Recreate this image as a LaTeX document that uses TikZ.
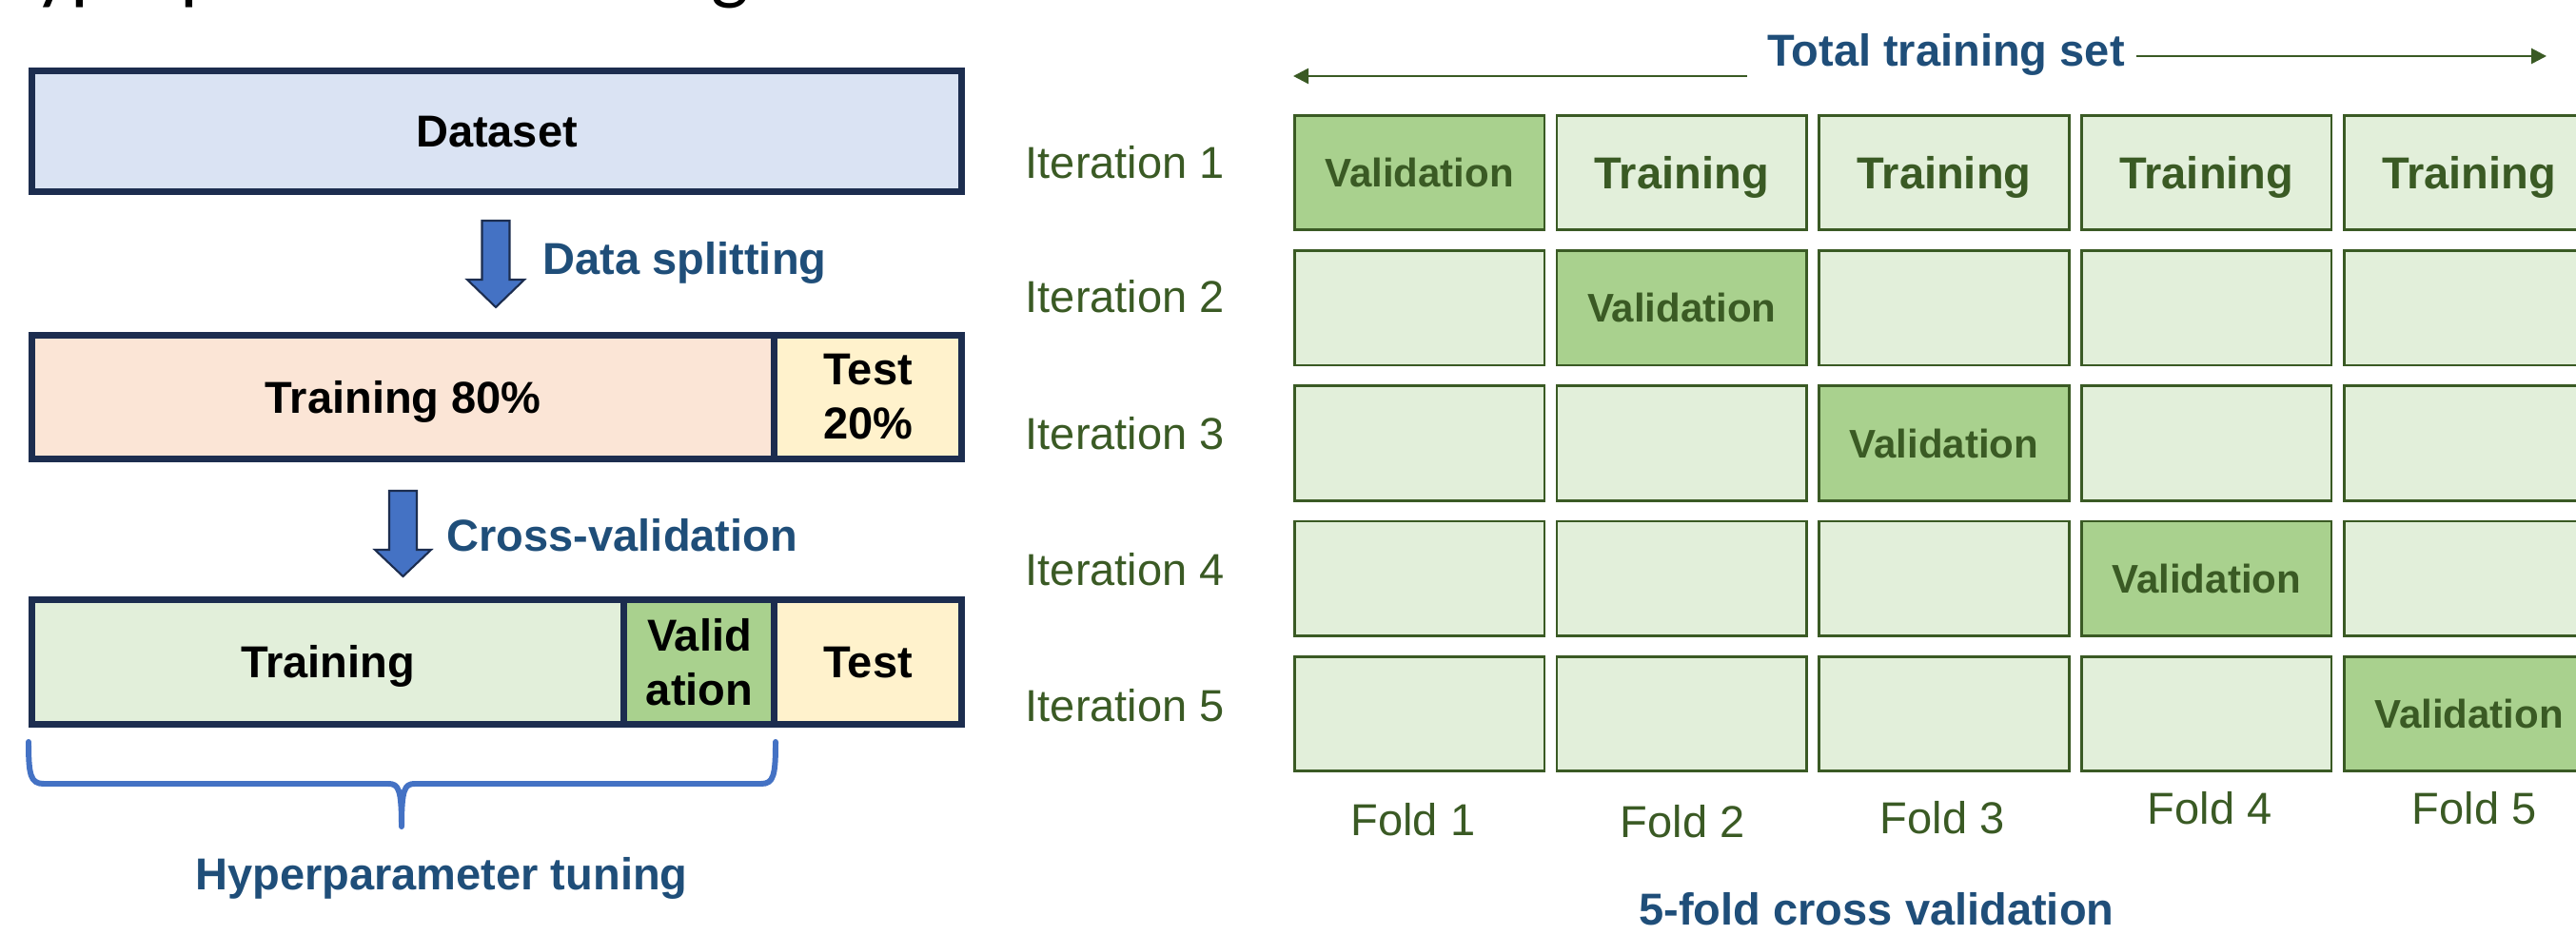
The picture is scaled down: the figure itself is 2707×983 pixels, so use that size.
\documentclass[tikz,border=0pt]{standalone}
\usepackage{fontspec}
\setmainfont{Liberation Sans}
\newfontfamily\titlefont{Carlito}
\usetikzlibrary{arrows.meta}
\definecolor{navy}{HTML}{1C2D4F}
\definecolor{dsfill}{HTML}{DAE3F3}
\definecolor{peach}{HTML}{FBE5D6}
\definecolor{lyellow}{HTML}{FFF2CC}
\definecolor{lgreen}{HTML}{E2EFDA}
\definecolor{mgreen}{HTML}{A9D18E}
\definecolor{dgreen}{HTML}{3A5A24}
\definecolor{btext}{HTML}{1F4E79}
\definecolor{bluefill}{HTML}{4472C4}
\newcommand\fntB{\fontsize{13.37}{16.2}\selectfont\bfseries}
\newcommand\fntR{\fontsize{13.37}{16.2}\selectfont}
\newcommand\fntV{\fontsize{11.95}{14}\selectfont\bfseries}
\tikzset{
  navybox/.style={draw=navy, line width=2pt, inner sep=0pt, font=\fntB, text=black, align=center},
  oneline/.style={text height=0.337cm, text depth=0pt},
  bluelabel/.style={inner sep=0pt, font=\fntB, text=btext, oneline},
  bluearrow/.style={fill=bluefill, draw=navy, line width=0.6pt, line join=miter},
  bracestyle/.style={draw=bluefill, line width=1.7pt, line cap=round, line join=round},
  cellbase/.style={draw=dgreen, line width=0.75pt, minimum width=2.625cm, minimum height=1.205cm, inner sep=0pt, text=dgreen},
  traincell/.style={cellbase, fill=lgreen, font=\fntB, oneline},
  valcell/.style={cellbase, fill=mgreen, font=\fntV, text height=0.30cm, text depth=0pt},
  greenlabel/.style={inner sep=0pt, font=\fntR, text=dgreen, oneline},
  garrow/.style={draw=dgreen, line width=0.75pt, -{Triangle[length=0.16cm,width=0.16cm]}}
}
\begin{document}
\begin{tikzpicture}[x=0.01cm, y=-0.01cm]
\useasboundingbox (0,0) rectangle (2707,983);
\clip (0,0) rectangle (2707,983);

% cut-off title
\node[anchor=base west, inner sep=0pt, font=\titlefont\fontsize{23.9}{28}\selectfont] (title) at (-17,-5) {Hyperparameter tuning};

% left column boxes
\node[navybox, fill=dsfill, minimum width=9.77cm, minimum height=1.27cm, oneline] (ds) at (522,138) {Dataset};

\node[navybox, fill=peach, minimum width=7.805cm, minimum height=1.30cm, oneline] (tr80) at (423.75,417.5) {Training 80\%};
\node[navybox, fill=lyellow, minimum width=1.965cm, minimum height=1.30cm] (te20) at (912.25,417.5) {Test\\20\%};

\node[navybox, fill=lgreen, minimum width=6.225cm, minimum height=1.31cm, oneline] (trcv) at (344.75,696) {Training};
\node[navybox, fill=mgreen, minimum width=1.58cm, minimum height=1.31cm] (vacv) at (735,696) {Valid\\ation};
\node[navybox, fill=lyellow, minimum width=1.965cm, minimum height=1.31cm, oneline] (tecv) at (912.25,696) {Test};

% block arrows
\draw[bluearrow] (506.5,232) -- (535.5,232) -- (535.5,294) -- (551,294) -- (521,323) -- (491,294) -- (506.5,294) -- cycle;
\node[bluelabel, anchor=west] (dsplit) at (570,272) {Data splitting};

\draw[bluearrow] (409,516) -- (438,516) -- (438,578) -- (453,578) -- (423.5,606) -- (394,578) -- (409,578) -- cycle;
\node[bluelabel, anchor=west] (cvlab) at (469,563) {Cross-validation};

% brace
\draw[bracestyle] (30,780) .. controls (30,815) and (32,824) .. (46,824) -- (408,824) .. controls (419,824) and (422,830) .. (422,869)
  .. controls (422,830) and (425,824) .. (436,824) -- (800,824) .. controls (813,824) and (815,815) .. (815,780);
\node[bluelabel] (hyp) at (464,919) {Hyperparameter tuning};

% right: total training set
\node[bluelabel] (tts) at (2045,53) {Total training set};
\coordinate (lat) at (1836,80);
\coordinate (lah) at (1359,80);
\draw[garrow] (lat) -- (lah);
\coordinate (rat) at (2245,59);
\coordinate (rah) at (2676,59);
\draw[garrow] (rat) -- (rah);

% grid
\foreach \r in {1,...,5}{
  \foreach \c in {1,...,5}{
    \ifnum\r=\c
      \tikzset{cur/.style={valcell}}\def\txt{Validation}
    \else
      \tikzset{cur/.style={traincell}}
      \ifnum\r=1 \def\txt{Training}\else\def\txt{}\fi
    \fi
    \node[cur] (cell\r\c) at ({1491.5+(\c-1)*275.75},{181.5+(\r-1)*142.25}) {\txt};
  }
}

% iteration labels
\foreach \r/\yy in {1/171,2/312,3/456,4/599,5/742}{
  \node[greenlabel, anchor=west] (it\r) at (1077,\yy) {Iteration \r};
}

% fold labels
\foreach \c/\xx/\yy in {1/1485/862,2/1768/864,3/2041/860,4/2322/850,5/2600/850}{
  \node[greenlabel] (fold\c) at (\xx,\yy) {Fold \c};
}

\node[bluelabel] (fivefold) at (1972,956) {5-fold cross validation};
\end{tikzpicture}
\end{document}
